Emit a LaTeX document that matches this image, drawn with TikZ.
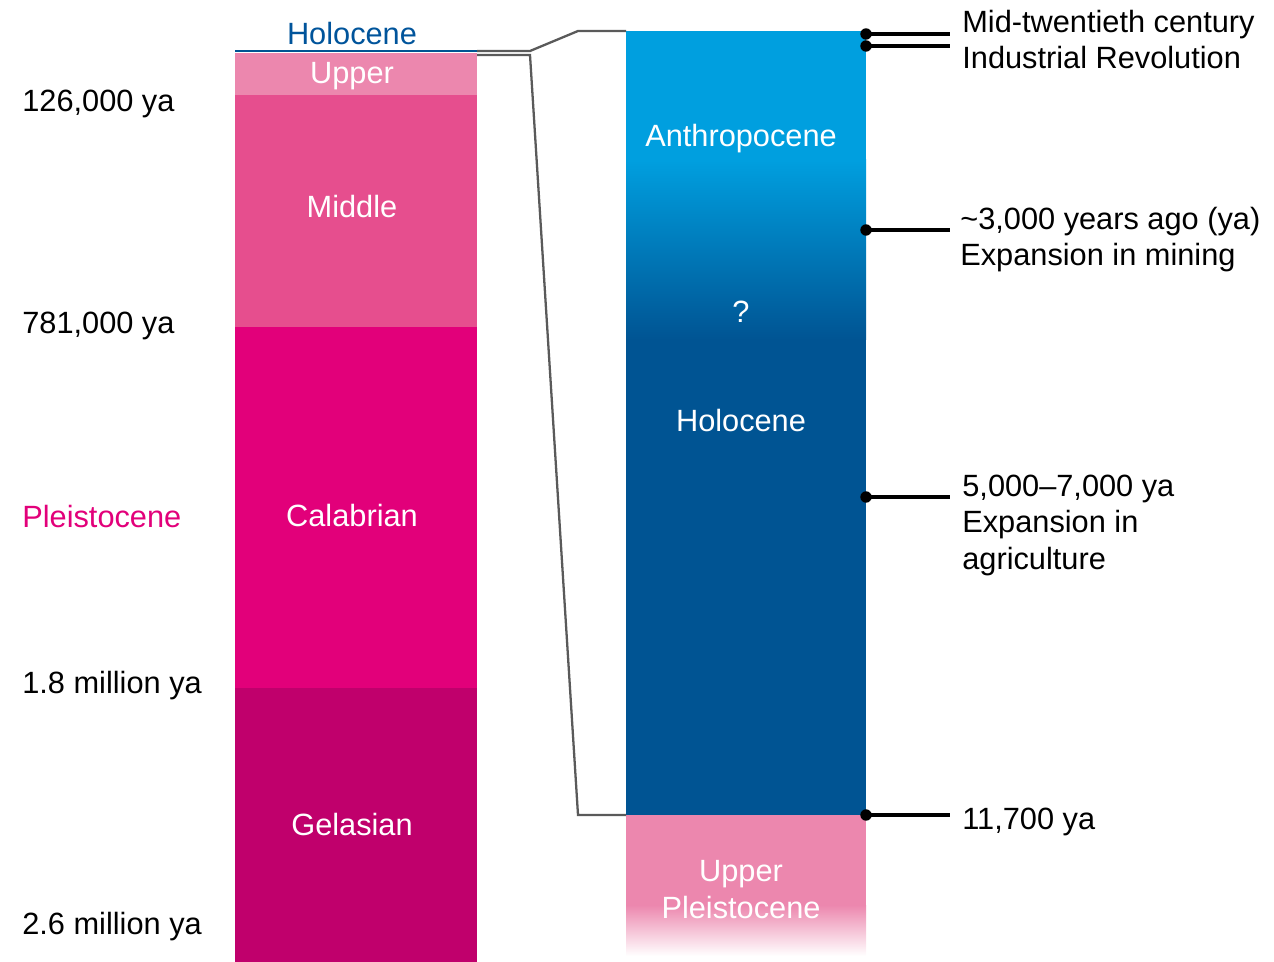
\documentclass[tikz,border=0pt]{standalone}
\usepackage{fontspec}
\setmainfont{Liberation Sans}
\usetikzlibrary{positioning}
\definecolor{upperpink}{RGB}{236,135,174}
\definecolor{middlepink}{RGB}{230,78,142}
\definecolor{calabrianpink}{RGB}{226,0,122}
\definecolor{gelasianpink}{RGB}{192,0,108}
\definecolor{anthroblue}{RGB}{0,159,223}
\definecolor{holoblue}{RGB}{0,84,147}
\definecolor{holotext}{RGB}{0,84,155}
\definecolor{linkgray}{RGB}{90,90,90}
\tikzset{
  txt/.style={inner sep=0pt, font=\fontsize{17.5}{20.5}\selectfont},
  note/.style={txt, anchor=base west, align=left},
  band/.style={txt, anchor=base, align=center, text=white},
  dot/.style={circle, fill=black, inner sep=0pt, minimum size=6.5pt},
  tick/.style={line width=1.9pt},
  link/.style={draw=linkgray, line width=1.3pt}
}
\begin{document}
\begin{tikzpicture}[x=0.02cm, y=-0.02cm]
 \useasboundingbox (0,0) rectangle (1274,962);
 % left column
 \fill[upperpink] (235,53) rectangle (477,95);
 \fill[middlepink] (235,95) rectangle (477,327);
 \fill[calabrianpink] (235,327) rectangle (477,688);
 \fill[gelasianpink] (235,688) rectangle (477,962);
 \draw[holoblue, line width=1.4pt] (235,51) -- (477,51);
 % right column
 \fill[anthroblue] (626,31) rectangle (866,160);
 \shade[top color=anthroblue, bottom color=holoblue] (626,160) rectangle (866,340);
 \fill[holoblue] (626,340) rectangle (866,815);
 \fill[upperpink] (626,815) rectangle (866,905);
 \shade[top color=upperpink, bottom color=white] (626,905) rectangle (866,956);
 % zoom lines
 \coordinate (zt1) at (477,51); \coordinate (zt2) at (530,51);
 \coordinate (zt3) at (578,31); \coordinate (zt4) at (626,31);
 \coordinate (zb1) at (477,55); \coordinate (zb2) at (530,55);
 \coordinate (zb3) at (578,815); \coordinate (zb4) at (626,815);
 \draw[link] (zt1) -- (zt2) -- (zt3) -- (zt4);
 \draw[link] (zb1) -- (zb2) -- (zb3) -- (zb4);
 % markers
 \foreach \n/\y in {mid/34, ind/46, min/230, agr/497, hol/815}
  {
   \node[dot] (d-\n) at (866,\y) {};
   \coordinate (e-\n) at (950,\y);
   \draw[tick] (d-\n.center) -- (e-\n);
  }
 % labels in the columns
 \node[band, text=holotext] (holo-top) at (352,45) {Holocene};
 \node[band] (upper) at (352,84) {Upper};
 \node[band] (middle) at (352,218) {Middle};
 \node[band] (calabrian) at (352,526) {Calabrian};
 \node[band] (gelasian) at (352,835) {Gelasian};
 \node[band] (anthro) at (741,147) {Anthropocene};
 \node[band] (quest) at (741,323) {?};
 \node[band] (holo) at (741,432) {Holocene};
 \node[band] (upleist) at (741,918) {Upper\\Pleistocene};
 % ages on the left
 \node[note] (a126) at (22,112) {126,000 ya};
 \node[note] (a781) at (22,334) {781,000 ya};
 \node[note, text=calabrianpink] (pleist) at (22,527) {Pleistocene};
 \node[note] (a18) at (22,693) {1.8 million ya};
 \node[note] (a26) at (22,934) {2.6 million ya};
 % events on the right
 \node[note] (t-mid) at (962,33) {Mid-twentieth century};
 \node[note] (t-ind) at (962,69) {Industrial Revolution};
 \node[note] (t-min) at (960,266) {\textasciitilde3,000 years ago (ya)\\Expansion in mining};
 \node[note] (t-agr) at (962,569) {5,000--7,000 ya\\Expansion in\\agriculture};
 \node[note] (t-hol) at (962,829) {11,700 ya};
\end{tikzpicture}
\end{document}
